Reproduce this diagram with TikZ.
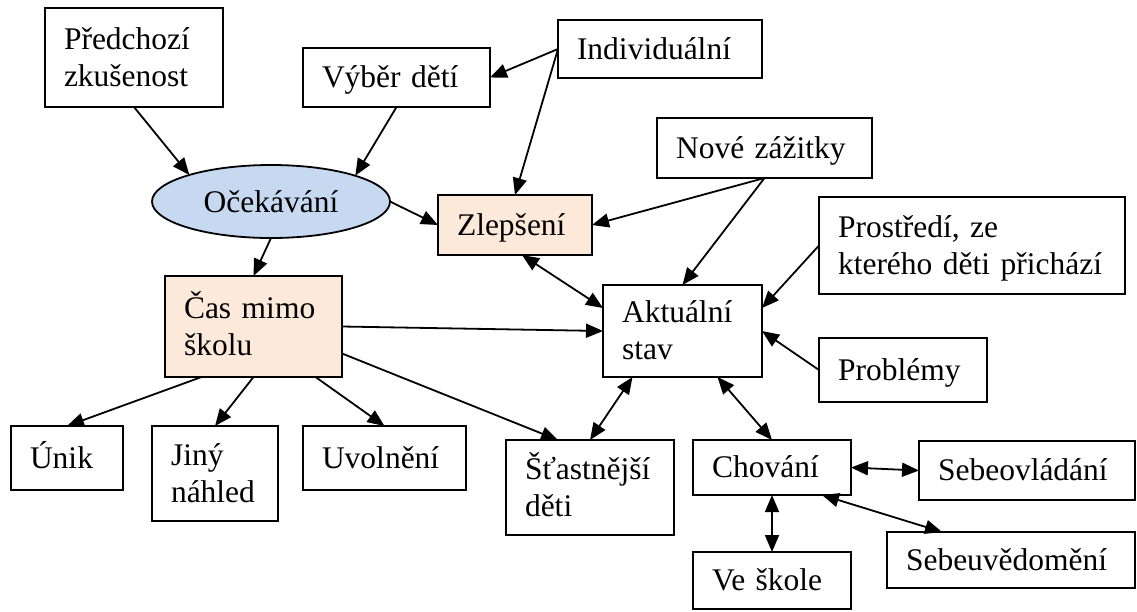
\documentclass[tikz,border=0pt]{standalone}
\usepackage{fontspec}
\setmainfont{Liberation Serif}
\usetikzlibrary{arrows.meta,shapes.geometric}
\definecolor{ovalblue}{HTML}{C6D9F1}
\definecolor{peach}{HTML}{FDE9D9}
% line strut: 28pt above the baseline, 8pt below
\newcommand\boxstrut{\rule[-8pt]{0pt}{36pt}}
\begin{document}
\begin{tikzpicture}[x=1pt,y=-1pt,
  every node/.style={font=\fontsize{31.5}{37}\selectfont},
  box/.style={draw, line width=1.8pt, rectangle, anchor=north west,
    inner xsep=19pt, inner ysep=0pt, outer sep=0pt, align=left,
    execute at begin node={\hyphenpenalty=10000\relax\boxstrut},
    execute at end node={\boxstrut}},
  oval/.style={draw, ellipse, line width=1.8pt, fill=ovalblue,
    inner sep=0pt, outer sep=0pt},
  link/.style={line width=1.8pt, -{Triangle[length=17pt,width=14pt]}},
  both/.style={line width=1.8pt,
    {Triangle[length=17pt,width=14pt]}-{Triangle[length=17pt,width=14pt]}}
]
\fill[white] (0,0) rectangle (1137,611);
\useasboundingbox (0,0) rectangle (1137,611);

% boxes (top-left corner, width, height)
\node[box, minimum width=178pt, text width=140pt, minimum height=99pt] (pred) at (45,8) {Předchozí\\zkušenost};
\node[box, minimum width=187pt, text width=149pt, minimum height=59pt] (vyber) at (303,48) {Výběr dětí};
\node[box, minimum width=204pt, text width=166pt, minimum height=58pt] (indiv) at (558,20) {Individuální};
\node[box, minimum width=215pt, text width=177pt, minimum height=60pt] (nove) at (657,118) {Nové zážitky};
\node[box, fill=peach, minimum width=154pt, text width=116pt, minimum height=60pt] (zlep) at (438,195) {Zlepšení};
\node[box, minimum width=306pt, text width=268pt, minimum height=97pt] (prost) at (819,197) {Prostředí, ze\\kterého děti přichází};
\node[box, fill=peach, minimum width=177pt, text width=139pt, minimum height=101pt] (cas) at (165,276) {Čas mimo\\školu};
\node[box, minimum width=159pt, text width=121pt, minimum height=92pt] (akt) at (603,285) {Aktuální\\stav};
\node[box, minimum width=168pt, text width=130pt, minimum height=64pt] (probl) at (819,338) {Problémy};
\node[box, minimum width=112pt, text width=74pt, minimum height=64pt] (unik) at (11,426) {Únik};
\node[box, minimum width=126pt, text width=88pt, minimum height=95pt] (jiny) at (152,426) {Jiný\\náhled};
\node[box, minimum width=163pt, text width=125pt, minimum height=64pt] (uvol) at (303,426) {Uvolnění};
\node[box, minimum width=168pt, text width=130pt, minimum height=95pt] (stast) at (506,440) {Šťastnější\\děti};
\node[box, minimum width=158pt, text width=120pt, minimum height=55pt] (chov) at (693,440) {Chování};
\node[box, minimum width=216pt, text width=178pt, minimum height=59pt] (sebeovl) at (919,441) {Sebeovládání};
\node[box, minimum width=248pt, text width=210pt, minimum height=56pt] (sebeuv) at (887,532) {Sebeuvědomění};
\node[box, minimum width=158pt, text width=120pt, minimum height=57pt] (ve) at (693,552) {Ve škole};

% expectation oval
\node[oval, minimum width=238pt, minimum height=73pt] (ocek) at (271,201.5) {Očekávání};

% connectors
\draw[link] (pred.south) -- (ocek.162);
\draw[link] (vyber.south) -- (ocek.17);
\draw[link] (indiv.west) -- (vyber.east);
\draw[link] (indiv.west) -- (zlep.north);
\draw[link] (nove.south) -- (zlep.east);
\draw[link] (nove.south) -- (akt.north);
\draw[link] (ocek.east) -- (zlep.west);
\draw[link] (ocek.south) -- (cas.north);
\draw[both] ([xshift=7pt]zlep.south) -- ([yshift=23pt]akt.west);
\draw[link] (cas.east) -- (akt.west);
\draw[link] ([yshift=-27pt]cas.east) -- ([xshift=-32pt]stast.north);
\draw[link] ([xshift=-52pt]cas.south) -- (unik.north);
\draw[link] (cas.south) -- (jiny.north);
\draw[link] ([xshift=62pt]cas.south) -- (uvol.north);
\draw[link] (prost.west) -- ([yshift=23pt]akt.east);
\draw[link] (probl.west) -- (akt.east);
\draw[both] (stast.north) -- ([xshift=-50pt]akt.south);
\draw[both] (chov.north) -- ([xshift=35pt]akt.south);
\draw[both] (chov.east) -- (sebeovl.west);
\draw[both] ([xshift=50pt]chov.south) -- ([xshift=-69pt]sebeuv.north);
\draw[both] (chov.south) -- (ve.north);
\end{tikzpicture}
\end{document}
